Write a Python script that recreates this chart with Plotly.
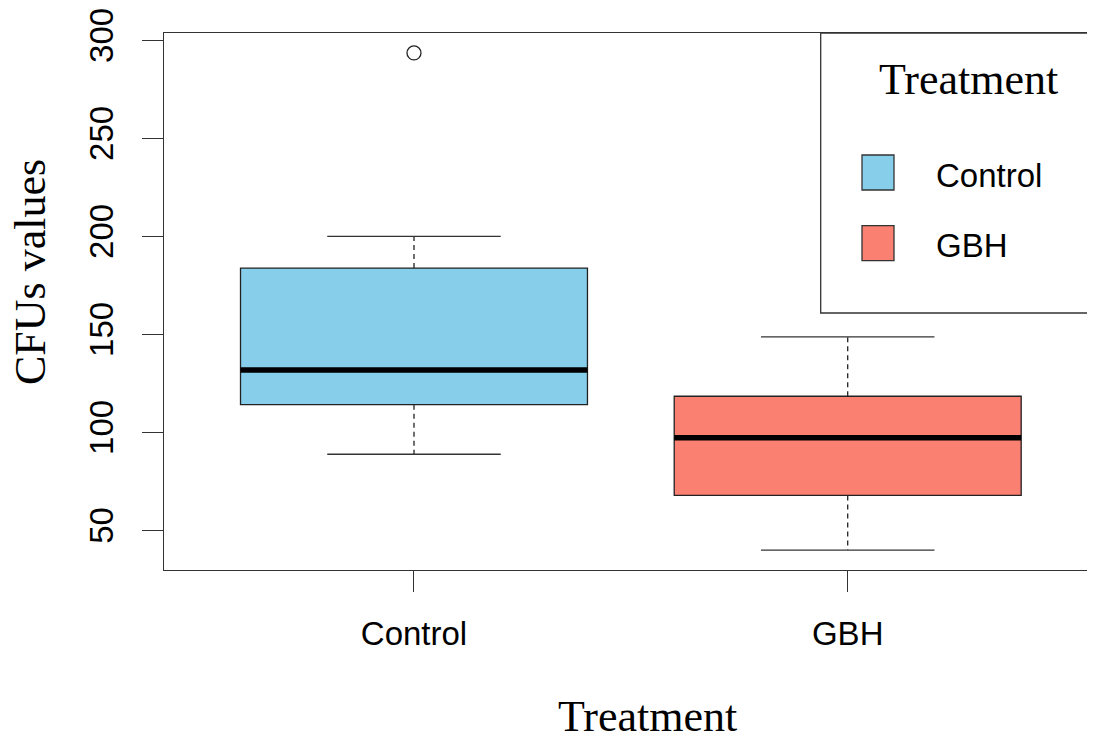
import plotly.graph_objects as go

# ---- data ----
categories = ["Control", "GBH"]
positions = [1, 2]
q1 = [114.1, 67.8]
medians = [131.8, 97.2]
q3 = [183.8, 118.4]
lower_whisker = [88.8, 39.9]
upper_whisker = [200.0, 148.7]
outlier_group = [1]
outlier_values = [293.6]
fill_colors = ["#87CEEB", "#FA8072"]
y_ticks = [50, 100, 150, 200, 250, 300]

# ---- layout helpers (pixel geometry; page body has an 8px margin) ----
OFF = 8
W, H = 1095 - OFF, 735 - OFF
L, R, T, B = 164 - OFF, 0, 33 - OFF, 165
PW, PH = W - L - R, H - T - B

def px(x):
    return (x - OFF - L) / PW

def py(y):
    return (H - B - (y - OFF)) / PH

SERIF = "Liberation Serif, Times New Roman, serif"
SANS = "Liberation Sans, Arial, sans-serif"
LINE = "#333333"
BOX_W = 0.8
CAP_W = 0.4

fig = go.Figure()

# boxes (no whiskers: fences at quartiles)
for i, cat in enumerate(categories):
    fig.add_trace(go.Box(
        x=[positions[i]], q1=[q1[i]], median=[medians[i]], q3=[q3[i]],
        lowerfence=[q1[i]], upperfence=[q3[i]],
        width=BOX_W, whiskerwidth=0,
        fillcolor=fill_colors[i], line=dict(color="#222222", width=1.3),
        name=cat, showlegend=False, hoverinfo="skip",
    ))

# dashed whiskers
wx, wy = [], []
for i in range(len(categories)):
    wx += [positions[i], positions[i], None, positions[i], positions[i], None]
    wy += [q3[i], upper_whisker[i], None, q1[i], lower_whisker[i], None]
fig.add_trace(go.Scatter(x=wx, y=wy, mode="lines",
                         line=dict(color="#222222", width=1.3, dash="5px,4px"),
                         showlegend=False, hoverinfo="skip"))

# whisker caps
cx, cy = [], []
for i in range(len(categories)):
    for v in (upper_whisker[i], lower_whisker[i]):
        cx += [positions[i] - CAP_W / 2, positions[i] + CAP_W / 2, None]
        cy += [v, v, None]
fig.add_trace(go.Scatter(x=cx, y=cy, mode="lines",
                         line=dict(color="#333333", width=1.3),
                         showlegend=False, hoverinfo="skip"))

# thick medians
mx, my = [], []
for i in range(len(categories)):
    mx += [positions[i] - BOX_W / 2, positions[i] + BOX_W / 2, None]
    my += [medians[i], medians[i], None]
fig.add_trace(go.Scatter(x=mx, y=my, mode="lines",
                         line=dict(color="black", width=5.5),
                         showlegend=False, hoverinfo="skip"))

# outliers
fig.add_trace(go.Scatter(x=outlier_group, y=outlier_values, mode="markers",
                         marker=dict(symbol="circle-open", size=14,
                                     color="#222222", line=dict(width=1.3)),
                         showlegend=False, hoverinfo="skip"))

# ---- manual legend (R style) ----
shapes = [
    dict(type="rect", xref="paper", yref="paper",
         x0=px(820.7), x1=px(1110), y0=py(313), y1=py(33),
         line=dict(color=LINE, width=1.3), fillcolor="rgba(0,0,0,0)"),
]
key_tops = [155, 225.7]
annotations = [
    dict(text="Treatment", x=px(968), y=py(80), xref="paper", yref="paper",
         xanchor="center", yanchor="middle", showarrow=False,
         font=dict(family=SERIF, size=44, color="black")),
]
for i, cat in enumerate(categories):
    t = key_tops[i]
    shapes.append(dict(type="rect", xref="paper", yref="paper",
                       x0=px(862), x1=px(894), y0=py(t + 35), y1=py(t),
                       line=dict(color=LINE, width=1.3), fillcolor=fill_colors[i]))
    annotations.append(dict(text=cat, x=px(934), y=py(t + 20), xref="paper", yref="paper",
                            xanchor="left", yanchor="middle", showarrow=False,
                            font=dict(family=SANS, size=33, color="black")))

# axis titles
annotations.append(dict(text="Treatment", x=px(647), y=py(716), xref="paper", yref="paper",
                        xanchor="center", yanchor="middle", showarrow=False,
                        font=dict(family=SERIF, size=44, color="black")))
annotations.append(dict(text="CFUs values", x=px(30), y=py(272), xref="paper", yref="paper",
                        xanchor="center", yanchor="middle", showarrow=False, textangle=-90,
                        font=dict(family=SERIF, size=44, color="black")))

fig.update_layout(
    width=W, height=H,
    margin=dict(l=L, r=R, t=T, b=B, autoexpand=False),
    paper_bgcolor="white", plot_bgcolor="white",
    shapes=shapes, annotations=annotations,
    showlegend=False,
)
fig.update_xaxes(
    range=[0.4236, 2.5702], tickvals=positions, ticktext=categories,
    showline=True, linecolor=LINE, linewidth=1.3, mirror=True,
    ticks="outside", ticklen=21, tickwidth=1.3, tickcolor=LINE,
    ticklabelstandoff=13, ticklabeloverflow="allow",
    showgrid=False, zeroline=False,
    tickfont=dict(family=SANS, size=33, color="black"),
)
fig.update_yaxes(
    range=[29.75, 303.75], tickvals=y_ticks,
    showline=True, linecolor=LINE, linewidth=1.3, mirror=False,
    ticks="outside", ticklen=21, tickwidth=1.3, tickcolor=LINE,
    tickangle=-90, ticklabelstandoff=16, ticklabeloverflow="allow",
    showgrid=False, zeroline=False,
    tickfont=dict(family=SANS, size=33, color="black"),
)

fig.write_html("out.html")
